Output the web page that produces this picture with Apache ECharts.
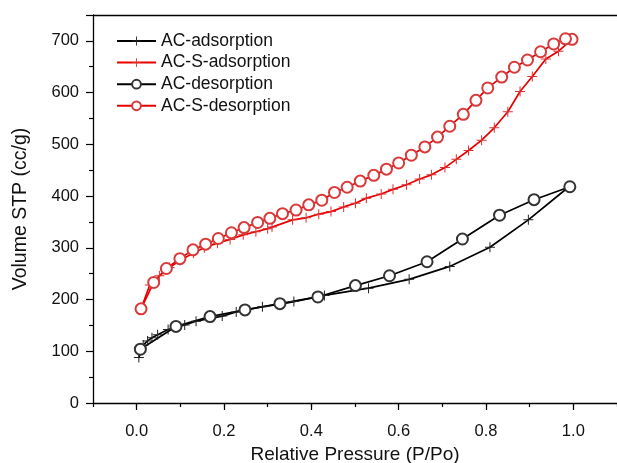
<!DOCTYPE html>
<html>
<head>
<meta charset="utf-8">
<script src="https://cdn.jsdelivr.net/npm/echarts@6/dist/echarts.min.js"></script>
<style>
html,body{margin:0;padding:0;background:#fff;}
#chart{width:617px;height:463px;}
</style>
</head>
<body>
<div id="chart"></div>
<script>
// AC adsorption branch
var acAdsX = [0.005,0.015,0.025,0.035,0.048,0.072,0.11,0.136,0.196,0.228,0.288,0.33,0.36,0.43,0.531,0.624,0.717,0.809,0.897,0.99];
var acAdsY = [88,112,120,126,132,142,151,158,168,176,186,191,196,208,222,239,264,301,354,418];
// AC desorption branch
var acDesX = [0.992,0.910,0.831,0.746,0.665,0.579,0.501,0.415,0.328,0.248,0.168,0.09,0.0085];
var acDesY = [418,393,363,317,273,246,227,205,192,180,167,148,104];
// AC-S adsorption branch
var acsAdsX = [0.01,0.03,0.052,0.075,0.1,0.13,0.155,0.185,0.214,0.244,0.273,0.30,0.31,0.357,0.388,0.417,0.445,0.474,0.501,0.526,0.56,0.587,0.618,0.648,0.675,0.706,0.732,0.76,0.79,0.819,0.85,0.878,0.906,0.937,0.966,0.997];
var acsAdsY = [182,228,246,262,276,290,300,309,316,325,331,337,340,354,358,365,370,379,386,396,404,413,422,433,441,455,471,488,508,532,563,602,631,665,680,703];
// AC-S desorption branch
var acsDesX = [0.997,0.982,0.955,0.925,0.895,0.865,0.836,0.804,0.777,0.748,0.717,0.689,0.66,0.629,0.6,0.572,0.543,0.512,0.482,0.453,0.424,0.394,0.365,0.334,0.305,0.277,0.246,0.217,0.187,0.158,0.129,0.099,0.068,0.039,0.01];
var acsDesY = [703,704,694,679,663,649,630,609,585,558,535,514,495,479,464,452,440,429,417,407,392,383,373,366,357,349,339,329,318,307,296,279,260,233,182];

var seriesNames = ['AC-adsorption','AC-S-adsorption','AC-desorption','AC-S-desorption'];

var FONT = 'Arial, "Liberation Sans", sans-serif';
var CROSS = 'path://M0,4.5H10V5.5H0Z M4.5,0H5.5V10H4.5Z';

function pairs(xs, ys){
    var out = [];
    for (var i = 0; i < xs.length; i++) {
        out.push([xs[i], ys[i]]);
    }
    return out;
}

function makeSeries(name, xs, ys, lineColor, markColor, symbol, size){
    return {
        name: name,
        type: 'line',
        data: pairs(xs, ys),
        symbol: symbol,
        symbolSize: size,
        showAllSymbol: true,
        lineStyle: {color: lineColor, width: 1.7},
        itemStyle: {color: markColor, borderWidth: 1},
        emphasis: {disabled: true}
    };
}

var chart = echarts.init(document.getElementById('chart'));
chart.setOption({
    animation: false,
    textStyle: {fontFamily: FONT},
    grid: {left: 93, right: 0, top: 15, bottom: 60, outerBoundsMode: 'none', containLabel: false},
    legend: {
        data: seriesNames,
        orient: 'vertical',
        left: 116,
        top: 32,
        padding: 0,
        itemWidth: 39,
        itemHeight: 11,
        itemGap: 3.6,
        textStyle: {fontSize: 17.5, color: '#111', fontFamily: FONT, lineHeight: 18}
    },
    xAxis: [{
        type: 'value',
        min: -0.1,
        max: 1.1,
        interval: 0.2,
        name: 'Relative Pressure (P/Po)',
        nameLocation: 'middle',
        nameGap: 40,
        nameTextStyle: {fontSize: 19, color: '#111', fontFamily: FONT},
        axisLine: {show: true, onZero: false, lineStyle: {color: '#000', width: 1.3}},
        axisTick: {show: true, length: 7, lineStyle: {color: '#000', width: 1.2},
            customValues: [0, 0.2, 0.4, 0.6, 0.8, 1.0]},
        minorTick: {show: false},
        axisLabel: {fontSize: 16.5, color: '#111', margin: 20, fontFamily: FONT,
            customValues: [0, 0.2, 0.4, 0.6, 0.8, 1.0],
            formatter: function(v){ return v.toFixed(1); }},
        splitLine: {show: false}
    }, {
        type: 'value',
        min: -0.1,
        max: 1.1,
        interval: 0.1,
        position: 'bottom',
        axisLine: {show: false, onZero: false},
        axisTick: {show: true, length: 4, lineStyle: {color: '#000', width: 1.2}},
        axisLabel: {show: false},
        splitLine: {show: false}
    }, {
        type: 'value',
        min: -0.1,
        max: 1.1,
        position: 'top',
        axisLine: {show: true, onZero: false, lineStyle: {color: '#000', width: 1.3}},
        axisTick: {show: false},
        axisLabel: {show: false},
        splitLine: {show: false}
    }],
    yAxis: {
        type: 'value',
        min: 0,
        max: 750,
        interval: 100,
        name: 'Volume STP (cc/g)',
        nameLocation: 'middle',
        nameGap: 62,
        nameTextStyle: {fontSize: 19.5, color: '#111', fontFamily: FONT},
        axisLine: {show: true, onZero: false, lineStyle: {color: '#000', width: 1.3}},
        axisTick: {show: true, length: 7, lineStyle: {color: '#000', width: 1.2}},
        minorTick: {show: true, splitNumber: 2, length: 4, lineStyle: {color: '#000', width: 1.2}},
        axisLabel: {fontSize: 16.5, color: '#111', margin: 14, fontFamily: FONT,
            formatter: function(v){ return v > 700 ? '' : v; }},
        splitLine: {show: false}
    },
    series: [
        makeSeries(seriesNames[0], acAdsX, acAdsY, '#000', '#222', CROSS, 10),
        makeSeries(seriesNames[1], acsAdsX, acsAdsY, '#e80000', '#e03030', CROSS, 10),
        makeSeries(seriesNames[2], acDesX, acDesY, '#000', '#333', 'emptyCircle', 11),
        makeSeries(seriesNames[3], acsDesX, acsDesY, '#e80000', '#d83a3a', 'emptyCircle', 11)
    ]
});
</script>
</body>
</html>
